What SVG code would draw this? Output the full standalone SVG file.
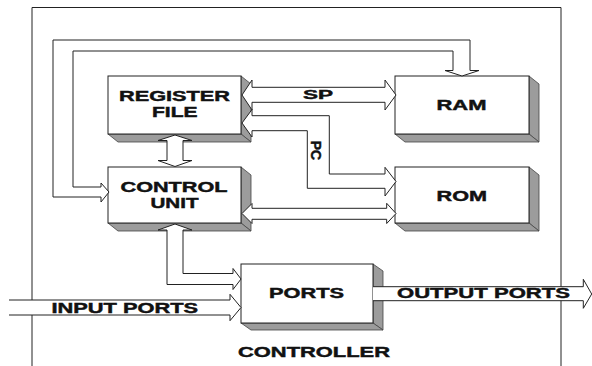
<svg xmlns="http://www.w3.org/2000/svg" width="592" height="366" viewBox="0 0 592 366">
<style>
.front{fill:#fff;stroke:#222;stroke-width:1}
.side{fill:#9c9c9c;stroke:#444;stroke-width:0.8;stroke-linejoin:round}
.arr{fill:#fff;stroke:#222;stroke-width:1;stroke-linejoin:miter}
.ln{fill:none;stroke:#222;stroke-width:1}
.lbl{font-family:"Liberation Sans",Arial,sans-serif;font-weight:bold;font-size:15px;fill:#111;stroke:#111;stroke-width:0.45}
.sm{font-size:13px}
</style>
<rect width="592" height="366" fill="#fff"/>
<path class="ln" d="M32,366 V7.5 H561 V366"/>

<g id="register-file">
<polygon class="side" points="241,76 251,84 251,142 241,134"/>
<polygon class="side" points="108,134 241,134 251,142 118,142"/>
<rect class="front" x="108" y="76" width="133" height="58"/>
<text class="lbl" x="119" y="101" textLength="111" lengthAdjust="spacingAndGlyphs">REGISTER</text>
<text class="lbl" x="152" y="117.3" textLength="45.5" lengthAdjust="spacingAndGlyphs">FILE</text>
</g>

<g id="control-unit">
<polygon class="side" points="241,167 251,175 251,231 241,223"/>
<polygon class="side" points="108,223 241,223 251,231 118,231"/>
<rect class="front" x="108" y="167" width="133" height="56"/>
<text class="lbl" x="120.5" y="191.7" textLength="107" lengthAdjust="spacingAndGlyphs">CONTROL</text>
<text class="lbl" x="150.5" y="208.3" textLength="48" lengthAdjust="spacingAndGlyphs">UNIT</text>
</g>

<g id="ram">
<polygon class="side" points="529,76 539,84 539,142 529,134"/>
<polygon class="side" points="395,134 529,134 539,142 405,142"/>
<rect class="front" x="395" y="76" width="134" height="58"/>
<text class="lbl" x="436.5" y="110" textLength="50" lengthAdjust="spacingAndGlyphs">RAM</text>
</g>

<g id="rom">
<polygon class="side" points="529,167 539,175 539,231 529,223"/>
<polygon class="side" points="395,223 529,223 539,231 405,231"/>
<rect class="front" x="395" y="167" width="134" height="56"/>
<text class="lbl" x="436.5" y="200.7" textLength="50.5" lengthAdjust="spacingAndGlyphs">ROM</text>
</g>

<g id="ports">
<polygon class="side" points="373,264 383,271 383,330 373,323"/>
<polygon class="side" points="241,323 373,323 383,330 251,330"/>
<rect class="front" x="241" y="264" width="132" height="59"/>
<text class="lbl" x="269" y="298.3" textLength="75" lengthAdjust="spacingAndGlyphs">PORTS</text>
</g>

<g id="connectors">
<polygon class="arr" points="462,76 479,70.5 470,70.5 470,40 53,40 53,197 101,197 101,202 109,192 101,183 101,187 73,187 73,51 453,51 453,70.5 445,70.5"/>
<polygon class="arr" points="175,135 192,140.5 183,140.5 183,160.5 192,160.5 175,166.5 158,160.5 167,160.5 167,140.5 158,140.5"/>
<polygon class="arr" points="175,224 192,230 183,230 183,273.5 233,273.5 233,268.5 241,279 233,289.5 233,284.5 167,284.5 167,230 158,230"/>
<polygon class="arr" points="242,95 252,80 252,87.3 385,87.3 385,80 396,95 385,110 385,102.3 252,102.3 252,110"/>
<polygon class="arr" points="242,123 252,109.5 252,115.7 329.3,115.7 329.3,174 385,174 385,167.3 396,181.5 385,196 385,188.3 307.3,188.3 307.3,130.7 252,130.7 252,137"/>
<polygon class="arr" points="242,213.5 252,203.5 252,208.3 386.7,208.3 386.7,203.3 396,213.5 386.7,223.5 386.7,219.3 252,219.3 252,223.5"/>
<polygon fill="#fff" points="9,300 230,300 230,294.3 241,307.5 230,320.7 230,315 9,315"/>
<polyline class="ln" points="9,300 230,300 230,294.3 241,307.5 230,320.7 230,315 9,315"/>
<polygon fill="#fff" points="373,286.7 583.3,286.7 583.3,279.3 591.7,294 583.3,308.3 583.3,300.7 373,300.7"/>
<polyline class="ln" points="373,286.7 583.3,286.7 583.3,279.3 591.7,294 583.3,308.3 583.3,300.7 373,300.7"/>
<text class="lbl sm" x="303" y="98.7" textLength="30" lengthAdjust="spacingAndGlyphs">SP</text>
<text class="lbl" transform="translate(311,150.5) rotate(90)" text-anchor="middle" style="font-size:14px">PC</text>
<text class="lbl" x="51.5" y="312.7" textLength="146.5" lengthAdjust="spacingAndGlyphs">INPUT PORTS</text>
<text class="lbl" x="397" y="298.3" textLength="173" lengthAdjust="spacingAndGlyphs">OUTPUT PORTS</text>
</g>

<text class="lbl" x="238" y="357.3" textLength="152" lengthAdjust="spacingAndGlyphs">CONTROLLER</text>
</svg>
